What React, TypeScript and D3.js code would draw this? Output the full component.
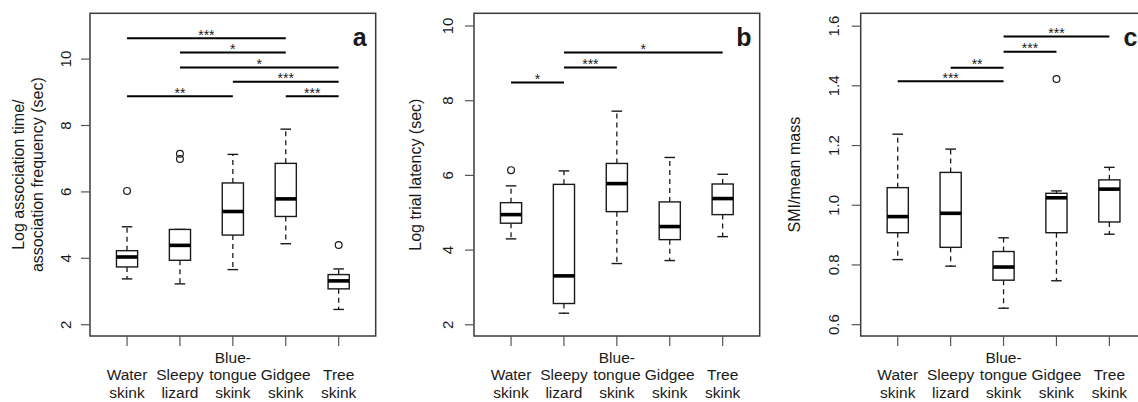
import React from "react";
import * as d3 from "d3";

// categories (multi-line labels as printed under each box)
const species = ["Water skink", "Sleepy lizard", "Blue-tongue skink", "Gidgee skink", "Tree skink"];
const speciesLines = [
  ["Water", "skink"],
  ["Sleepy", "lizard"],
  ["Blue-", "tongue", "skink"],
  ["Gidgee", "skink"],
  ["Tree", "skink"],
];

// panel a: log association time / association frequency
const assocLow = [3.38, 3.23, 3.66, 4.44, 2.46];
const assocQ1 = [3.74, 3.94, 4.7, 5.26, 3.08];
const assocMed = [4.04, 4.39, 5.41, 5.79, 3.32];
const assocQ3 = [4.23, 4.87, 6.27, 6.86, 3.51];
const assocHigh = [4.95, 4.87, 7.13, 7.89, 3.68];
const assocOut = [[6.03], [6.99, 7.15], [], [], [4.4]];
const assocSig = [
  { from: 0, to: 3, y: 10.63, mark: "***" },
  { from: 1, to: 3, y: 10.2, mark: "*" },
  { from: 1, to: 4, y: 9.75, mark: "*" },
  { from: 2, to: 4, y: 9.32, mark: "***" },
  { from: 0, to: 2, y: 8.88, mark: "**" },
  { from: 3, to: 4, y: 8.88, mark: "***" },
];
const assocTicks = [2, 4, 6, 8, 10];

// panel b: log trial latency
const latLow = [4.3, 2.31, 3.64, 3.72, 4.36];
const latQ1 = [4.72, 2.57, 5.03, 4.28, 4.95];
const latMed = [4.95, 3.31, 5.78, 4.63, 5.38];
const latQ3 = [5.27, 5.76, 6.32, 5.29, 5.77];
const latHigh = [5.72, 6.12, 7.72, 6.48, 6.03];
const latOut = [[6.14], [], [], [], []];
const latSig = [
  { from: 0, to: 1, y: 8.49, mark: "*" },
  { from: 1, to: 2, y: 8.89, mark: "***" },
  { from: 1, to: 4, y: 9.29, mark: "*" },
];
const latTicks = [2, 4, 6, 8, 10];

// panel c: SMI / mean mass
const smiLow = [0.818, 0.796, 0.655, 0.747, 0.903];
const smiQ1 = [0.908, 0.859, 0.749, 0.908, 0.944];
const smiMed = [0.962, 0.973, 0.793, 1.025, 1.054];
const smiQ3 = [1.059, 1.11, 0.845, 1.04, 1.085];
const smiHigh = [1.238, 1.188, 0.891, 1.048, 1.127];
const smiOut = [[], [], [], [1.423], []];
const smiSig = [
  { from: 0, to: 2, y: 1.415, mark: "***" },
  { from: 1, to: 2, y: 1.461, mark: "**" },
  { from: 2, to: 3, y: 1.514, mark: "***" },
  { from: 2, to: 4, y: 1.565, mark: "***" },
];
const smiTicks = [0.6, 0.8, 1.0, 1.2, 1.4, 1.6];

const FONT = "'Liberation Sans', Arial, Helvetica, sans-serif";
const TOP = 13.3;
const BOTTOM = 336;
const PW = 285.7;

type Sig = { from: number; to: number; y: number; mark: string };

const Panel = ({ left, letter, title, domain, ticks, fmt, low, q1, med, q3, high, outliers, sigs, tickOff, titleOff }: any) => {
  const x = d3.scaleLinear().domain([0.3, 5.7]).range([left, left + PW]);
  const y = d3.scaleLinear().domain(domain).range([BOTTOM, TOP]);
  const bw = x(1.4) - x(1);
  const sw = bw / 2;
  const midY = (TOP + BOTTOM) / 2;
  const ink = "#1a1a1a";

  return (
    <g fontFamily={FONT} fill={ink}>
      {/* boxes */}
      {species.map((s, i) => {
        const cx = x(i + 1);
        return (
          <g key={s}>
            <line x1={cx} x2={cx} y1={y(q3[i])} y2={y(high[i])} stroke={ink} strokeWidth={1.3} strokeDasharray="5,4" />
            <line x1={cx} x2={cx} y1={y(q1[i])} y2={y(low[i])} stroke={ink} strokeWidth={1.3} strokeDasharray="5,4" />
            <line x1={cx - sw / 2} x2={cx + sw / 2} y1={y(high[i])} y2={y(high[i])} stroke={ink} strokeWidth={1.4} />
            <line x1={cx - sw / 2} x2={cx + sw / 2} y1={y(low[i])} y2={y(low[i])} stroke={ink} strokeWidth={1.4} />
            <rect x={cx - bw / 2} y={y(q3[i])} width={bw} height={y(q1[i]) - y(q3[i])} fill="white" stroke={ink} strokeWidth={1.4} />
            <line x1={cx - bw / 2} x2={cx + bw / 2} y1={y(med[i])} y2={y(med[i])} stroke="#000" strokeWidth={3.6} />
            {outliers[i].map((v: number, j: number) => (
              <circle key={j} cx={cx} cy={y(v)} r={3.4} fill="none" stroke={ink} strokeWidth={1.2} />
            ))}
          </g>
        );
      })}

      {/* significance bars */}
      {sigs.map((d: Sig, k: number) => (
        <g key={k}>
          <line x1={x(d.from + 1)} x2={x(d.to + 1)} y1={y(d.y)} y2={y(d.y)} stroke="#000" strokeWidth={2} />
          <text x={(x(d.from + 1) + x(d.to + 1)) / 2} y={y(d.y) + 1.5} textAnchor="middle" fontSize={14}>
            {d.mark}
          </text>
        </g>
      ))}

      {/* frame */}
      <rect x={left} y={TOP} width={PW} height={BOTTOM - TOP} fill="none" stroke="#3a3a3a" strokeWidth={1.5} />

      {/* y axis */}
      {ticks.map((t: number) => (
        <g key={t}>
          <line x1={left - 9} x2={left} y1={y(t)} y2={y(t)} stroke="#555" strokeWidth={1.2} />
          <text
            transform={`translate(${left - tickOff},${y(t)}) rotate(-90)`}
            textAnchor="middle"
            dominantBaseline="central"
            fontSize={15}
          >
            {fmt(t)}
          </text>
        </g>
      ))}
      {title.map((line: string, k: number) => (
        <text
          key={k}
          transform={`translate(${left - titleOff + k * 19},${midY}) rotate(-90)`}
          textAnchor="middle"
          dominantBaseline="central"
          fontSize={16}
        >
          {line}
        </text>
      ))}

      {/* x axis */}
      {speciesLines.map((lines, i) => {
        const cx = x(i + 1);
        return (
          <g key={i}>
            <line x1={cx} x2={cx} y1={BOTTOM} y2={BOTTOM + 10} stroke="#555" strokeWidth={1.2} />
            {lines.map((l, k) => (
              <text key={k} x={cx} y={398 - (lines.length - 1 - k) * 17.7} textAnchor="middle" fontSize={15.5}>
                {l}
              </text>
            ))}
          </g>
        );
      })}

      <text x={x(5.4)} y={45.5} textAnchor="middle" fontSize={25} fontWeight="bold">
        {letter}
      </text>
    </g>
  );
};

export default function App() {
  const intFmt = d3.format("d");
  const decFmt = d3.format(".1f");
  return (
    <svg width={1138} height={402} style={{ position: "absolute", left: 0, top: 0, background: "white" }}>
      <rect width={1138} height={402} fill="white" />
      <Panel
        left={90}
        letter="a"
        title={["Log association time/", "association frequency (sec)"]}
        domain={[1.66, 11.38]}
        ticks={assocTicks}
        fmt={intFmt}
        low={assocLow}
        q1={assocQ1}
        med={assocMed}
        q3={assocQ3}
        high={assocHigh}
        outliers={assocOut}
        sigs={assocSig}
        tickOff={25}
        titleOff={72}
      />
      <Panel
        left={474}
        letter="b"
        title={["Log trial latency (sec)"]}
        domain={[1.7, 10.34]}
        ticks={latTicks}
        fmt={intFmt}
        low={latLow}
        q1={latQ1}
        med={latMed}
        q3={latQ3}
        high={latHigh}
        outliers={latOut}
        sigs={latSig}
        tickOff={27}
        titleOff={59}
      />
      <Panel
        left={860.7}
        letter="c"
        title={["SMI/mean mass"]}
        domain={[0.562, 1.643]}
        ticks={smiTicks}
        fmt={decFmt}
        low={smiLow}
        q1={smiQ1}
        med={smiMed}
        q3={smiQ3}
        high={smiHigh}
        outliers={smiOut}
        sigs={smiSig}
        tickOff={27.7}
        titleOff={66}
      />
    </svg>
  );
}
